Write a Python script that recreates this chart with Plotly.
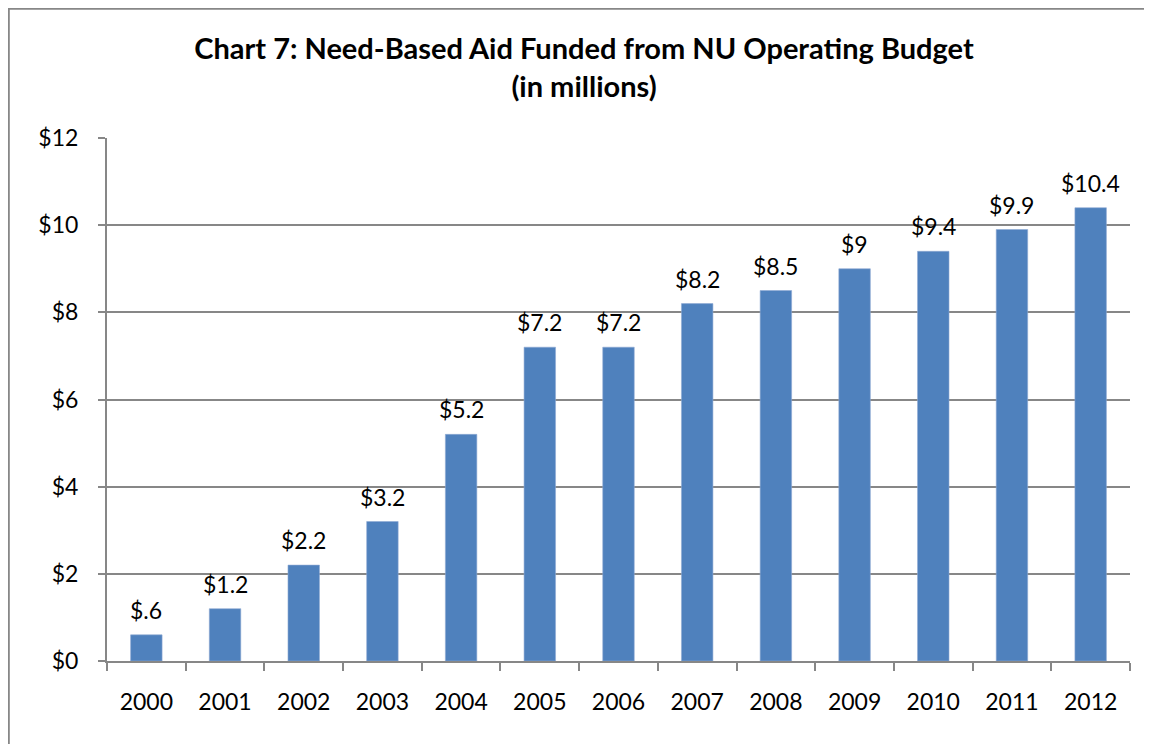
import plotly.graph_objects as go

years = ["2000", "2001", "2002", "2003", "2004", "2005", "2006",
         "2007", "2008", "2009", "2010", "2011", "2012"]
aid_millions = [0.6, 1.2, 2.2, 3.2, 5.2, 7.2, 7.2, 8.2, 8.5, 9.0, 9.4, 9.9, 10.4]
value_labels = ["$.6", "$1.2", "$2.2", "$3.2", "$5.2", "$7.2", "$7.2",
                "$8.2", "$8.5", "$9", "$9.4", "$9.9", "$10.4"]
y_ticks = [0, 2, 4, 6, 8, 10, 12]
y_tick_labels = ["$0", "$2", "$4", "$6", "$8", "$10", "$12"]

FONT = "Lato, 'Open Sans', sans-serif"
GRAY = "#878787"
FS = 23

fig = go.Figure()
fig.add_trace(go.Bar(
    x=years, y=aid_millions,
    marker=dict(color="#4F81BD", line=dict(color="#8EA9D4", width=0.6)),
    width=0.4,
    hoverinfo="skip",
))

for i, (y, t) in enumerate(zip(aid_millions, value_labels)):
    fig.add_annotation(x=i, y=y, text=t, showarrow=False, yanchor="bottom",
                       yshift=9, font=dict(family=FONT, size=FS, color="#000"))

# page body offsets the figure by 8px
W, H = 1152, 744
ml, mt = 99, 130
pw, ph = 1023, 523
mr, mb = W - ml - pw, H - mt - ph

def px2x(px):
    return (px - ml) / pw

def px2y(py):
    return (mt + ph - py) / ph

fig.add_shape(type="rect", xref="paper", yref="paper",
              x0=px2x(0.8), x1=px2x(1170), y0=px2y(770), y1=px2y(0.8),
              line=dict(color=GRAY, width=2), fillcolor="rgba(0,0,0,0)", layer="below")

fig.update_layout(
    width=W, height=H,
    margin=dict(l=ml, r=mr, t=mt, b=mb, pad=0),
    paper_bgcolor="white", plot_bgcolor="white",
    showlegend=False,
    title=dict(text="<b>Chart 7: Need-Based Aid Funded from NU Operating Budget<br>(in millions)</b>",
               x=0.5, xref="container", xanchor="center", y=1 - 51 / H, yanchor="middle",
               font=dict(family=FONT, size=29, color="#000")),
    font=dict(family=FONT, size=FS, color="#000"),
)
fig.update_xaxes(
    type="category", range=[-0.5, 12.5], showline=True, linecolor=GRAY, linewidth=2,
    ticks="outside", tickson="boundaries", ticklen=8, tickwidth=2, tickcolor=GRAY,
    ticklabelstandoff=19, showgrid=False, mirror=False, tickangle=0,
    tickfont=dict(family=FONT, size=FS, color="#000"),
)
fig.update_yaxes(
    range=[0, 12], tickvals=y_ticks, ticktext=y_tick_labels,
    showline=True, linecolor=GRAY, linewidth=2,
    ticks="outside", ticklen=7, tickwidth=2, tickcolor=GRAY,
    showgrid=True, gridcolor=GRAY, gridwidth=2,
    ticklabelstandoff=15, zeroline=False,
    tickfont=dict(family=FONT, size=FS, color="#000"),
)

fig.write_html("out.html")
